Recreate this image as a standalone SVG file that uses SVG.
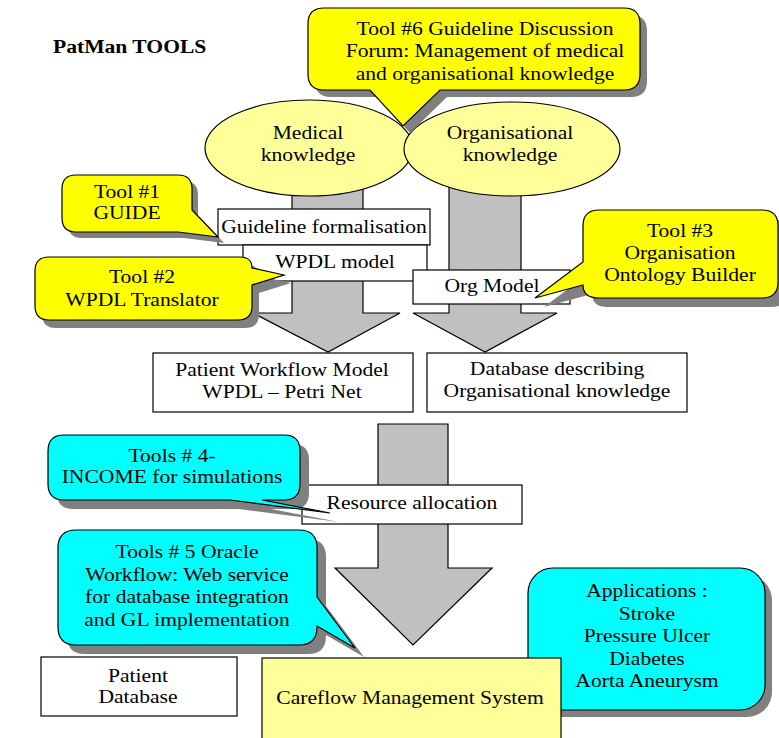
<svg xmlns="http://www.w3.org/2000/svg" width="779" height="738" viewBox="0 0 779 738">
<style>
.t{font-family:"Liberation Serif","Times New Roman",serif;font-size:19.2px;text-anchor:middle;fill:#000}
.b{font-weight:bold;text-anchor:start}
.box{fill:#fff;stroke:#000;stroke-width:1.2}
.arrow{fill:#c0c0c0;stroke:#000;stroke-width:1.2}
.ell{fill:#ffff99;stroke:#000;stroke-width:1.2}
.cy{fill:#ffff00;stroke:#000;stroke-width:1.2}
.cc{fill:#00ffff;stroke:#000;stroke-width:1.2}
.sh{fill:#808080}
</style>
<rect width="779" height="738" fill="#fff"/>
<text class="t b" transform="translate(53,53) scale(1.125,1)">PatMan TOOLS</text>

<g id="connectors">
<polygon class="arrow" points="292,175 363,175 363,313 400,313 328,352 253,313 292,313"/>
<polygon class="arrow" points="449,170 521,170 521,313 557,313 485,352 413,313 449,313"/>
<polygon class="arrow" points="378,424 448,424 448,568 492,568 413,645 335,568 378,568"/>
</g>

<g id="medical">
<ellipse class="ell" cx="309" cy="148" rx="104" ry="48"/>
<text class="t" transform="translate(308,139) scale(1.125,1)"><tspan x="0" y="0">Medical</tspan><tspan x="0" y="22.5">knowledge</tspan></text>
</g>
<g id="organisational">
<ellipse class="ell" cx="512" cy="149" rx="108" ry="47"/>
<text class="t" transform="translate(510,139) scale(1.125,1)"><tspan x="0" y="0">Organisational</tspan><tspan x="0" y="22.5">knowledge</tspan></text>
</g>

<g id="guideline">
<rect class="box" x="218" y="209" width="212" height="36"/>
<text class="t" transform="translate(324,233) scale(1.125,1)">Guideline formalisation</text>
</g>
<g id="wpdl">
<rect class="box" x="243" y="245" width="184" height="36"/>
<text class="t" transform="translate(335,268) scale(1.125,1)">WPDL model</text>
</g>
<g id="orgmodel">
<rect class="box" x="413" y="270" width="157" height="34"/>
<text class="t" transform="translate(492,292) scale(1.125,1)">Org Model</text>
</g>

<g id="pwm">
<rect class="box" x="153" y="353" width="260" height="59"/>
<text class="t" transform="translate(282,376) scale(1.125,1)"><tspan x="0" y="0">Patient Workflow Model</tspan><tspan x="0" y="22.5">WPDL – Petri Net</tspan></text>
</g>
<g id="dbok">
<rect class="box" x="427" y="353" width="260" height="59"/>
<text class="t" transform="translate(557,375) scale(1.125,1)"><tspan x="0" y="0">Database describing</tspan><tspan x="0" y="22.5">Organisational knowledge</tspan></text>
</g>

<g id="resource">
<rect class="box" x="302" y="485" width="220" height="39"/>
<text class="t" transform="translate(412,509) scale(1.125,1)">Resource allocation</text>
</g>

<g id="patientdb">
<rect class="box" x="41" y="657" width="196" height="59"/>
<text class="t" transform="translate(138,682) scale(1.125,1)"><tspan x="0" y="0">Patient</tspan><tspan x="0" y="21.5">Database</tspan></text>
</g>

<g id="applications">
<rect class="sh" x="535" y="575" width="237" height="142" rx="25"/>
<rect class="cc" x="528" y="568" width="237" height="142" rx="25"/>
<text class="t" transform="translate(647,597) scale(1.125,1)"><tspan x="0" y="0">Applications :</tspan><tspan x="0" y="22.6">Stroke</tspan><tspan x="0" y="45.2">Pressure Ulcer</tspan><tspan x="0" y="67.8">Diabetes</tspan><tspan x="0" y="90.4">Aorta Aneurysm</tspan></text>
</g>

<g id="careflow">
<rect x="262" y="658" width="299" height="90" fill="#ffff99" stroke="#000" stroke-width="1.2"/>
<text class="t" transform="translate(410,704) scale(1.125,1)">Careflow Management System</text>
</g>

<g id="tool6">
<path class="sh" transform="translate(7,7)" d="M324,8 H624 Q640,8 640,24 V74 Q640,90 624,90 H440 L403,126 L370,90 H324 Q308,90 308,74 V24 Q308,8 324,8 Z"/>
<path class="cy" d="M324,8 H624 Q640,8 640,24 V74 Q640,90 624,90 H440 L403,126 L370,90 H324 Q308,90 308,74 V24 Q308,8 324,8 Z"/>
<text class="t" transform="translate(485,35) scale(1.125,1)"><tspan x="0" y="0">Tool #6 Guideline Discussion</tspan><tspan x="0" y="22.5">Forum: Management of medical</tspan><tspan x="0" y="45">and organisational knowledge</tspan></text>
</g>

<g id="tool1">
<path class="sh" transform="translate(6,6)" d="M76,175 H178 Q192,175 192,189 V210 L218,237 L178,232 H76 Q62,232 62,218 V189 Q62,175 76,175 Z"/>
<path class="cy" d="M76,175 H178 Q192,175 192,189 V210 L218,237 L178,232 H76 Q62,232 62,218 V189 Q62,175 76,175 Z"/>
<text class="t" transform="translate(127,198) scale(1.125,1)"><tspan x="0" y="0">Tool #1</tspan><tspan x="0" y="21">GUIDE</tspan></text>
</g>

<g id="tool2">
<path class="sh" transform="translate(7,8)" d="M49,257 H240 Q252,257 252,268 L284,275 L252,285 V306 Q252,320 238,320 H49 Q35,320 35,306 V271 Q35,257 49,257 Z"/>
<path class="cy" d="M49,257 H240 Q252,257 252,268 L284,275 L252,285 V306 Q252,320 238,320 H49 Q35,320 35,306 V271 Q35,257 49,257 Z"/>
<text class="t" transform="translate(142,283) scale(1.125,1)"><tspan x="0" y="0">Tool #2</tspan><tspan x="0" y="23">WPDL Translator</tspan></text>
</g>

<g id="tool3">
<path class="sh" transform="translate(9,9)" d="M599,210 H762 Q778,210 778,226 V282 Q778,298 762,298 H599 Q583,298 583,285 L535,298 L583,262 V226 Q583,210 599,210 Z"/>
<path class="cy" d="M599,210 H762 Q778,210 778,226 V282 Q778,298 762,298 H599 Q583,298 583,285 L535,298 L583,262 V226 Q583,210 599,210 Z"/>
<text class="t" transform="translate(680,237) scale(1.125,1)"><tspan x="0" y="0">Tool #3</tspan><tspan x="0" y="22">Organisation</tspan><tspan x="0" y="44">Ontology Builder</tspan></text>
</g>

<g id="tool4">
<path class="sh" transform="translate(9,9)" d="M64,435 H284 Q300,435 300,451 V484 Q300,500 284,500 H262 L330,513 L230,500 H64 Q48,500 48,484 V451 Q48,435 64,435 Z"/>
<path class="cc" d="M64,435 H284 Q300,435 300,451 V484 Q300,500 284,500 H262 L330,513 L230,500 H64 Q48,500 48,484 V451 Q48,435 64,435 Z"/>
<text class="t" transform="translate(172,462) scale(1.125,1)"><tspan x="0" y="0">Tools # 4-</tspan><tspan x="0" y="21.5">INCOME for simulations</tspan></text>
</g>

<g id="tool5">
<path class="sh" transform="translate(9,9)" d="M76,530 H299 Q317,530 317,548 V597 L355,648 L317,626 V627 Q317,645 299,645 H76 Q58,645 58,627 V548 Q58,530 76,530 Z"/>
<path class="cc" d="M76,530 H299 Q317,530 317,548 V597 L355,648 L317,626 V627 Q317,645 299,645 H76 Q58,645 58,627 V548 Q58,530 76,530 Z"/>
<text class="t" transform="translate(187,558) scale(1.125,1)"><tspan x="0" y="0">Tools # 5 Oracle</tspan><tspan x="0" y="22.7">Workflow: Web service</tspan><tspan x="0" y="45.4">for database integration</tspan><tspan x="0" y="68.1">and GL implementation</tspan></text>
</g>
</svg>
